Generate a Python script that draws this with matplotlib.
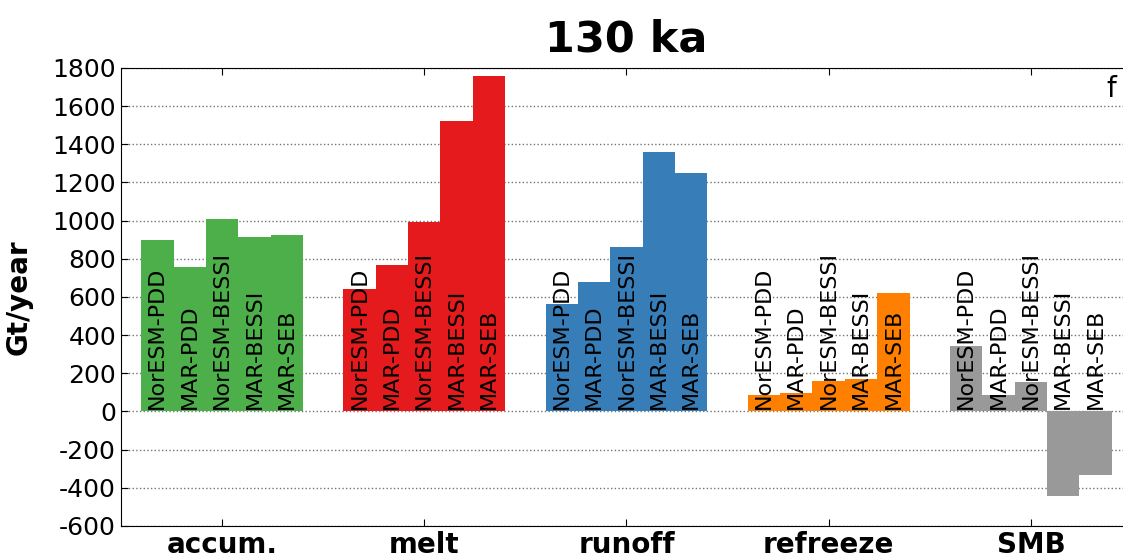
import numpy as np
import matplotlib
matplotlib.use("Agg")
import matplotlib.pyplot as plt

plt.rcParams["axes.unicode_minus"] = False

# SMB components at 130 ka, Gt/year
categories = ["accum.", "melt", "runoff", "refreeze", "SMB"]
models = ["NorESM-PDD", "MAR-PDD", "NorESM-BESSI", "MAR-BESSI", "MAR-SEB"]

accum = [899, 756, 1007, 915, 923]
melt = [640, 766, 991, 1522, 1758]
runoff = [562, 677, 860, 1358, 1252]
refreeze = [86, 97, 161, 172, 623]
smb = [345, 85, 155, -441, -334]

colors = ["#4daf4a", "#e41a1c", "#377eb8", "#ff7f00", "#999999"]


def main():
    series = [accum, melt, runoff, refreeze, smb]

    fig = plt.figure(figsize=(11.23, 5.57), dpi=100)
    ax = fig.add_axes([0.1077, 0.0557, 0.9003, 0.8223])

    width = 0.16
    offsets = (np.arange(len(models)) - 2) * width
    for i, (vals, color) in enumerate(zip(series, colors)):
        x = i + offsets
        ax.bar(x, vals, width=width, color=color, linewidth=0, zorder=2)
        for xm, name in zip(x, models):
            ax.text(xm, 15, name, rotation=90, ha="center", va="bottom",
                    fontsize=16, zorder=3)

    ax.set_xlim(-0.5, 4.5)
    ax.set_ylim(-600, 1800)
    ax.set_yticks(np.arange(-600, 1801, 200))
    ax.set_xticks(np.arange(len(categories)))
    ax.set_xticklabels(categories, fontsize=20, fontweight="bold")
    ax.tick_params(axis="y", labelsize=18)
    ax.tick_params(direction="in", top=True, right=True, length=5)
    ax.yaxis.grid(True, linestyle=":", color="0.45", linewidth=1.0, zorder=0)
    ax.set_axisbelow(True)

    ax.set_ylabel("Gt/year", fontsize=20, fontweight="bold")
    ax.yaxis.set_label_coords(-0.087, 0.5)
    ax.set_title("130 ka", fontsize=31, fontweight="bold", pad=12)
    ax.text(0.979, 0.985, "f", transform=ax.transAxes, fontsize=20,
            ha="center", va="top")

    fig.savefig("out.png", dpi=100)
    plt.close(fig)


if __name__ == "__main__":
    main()
